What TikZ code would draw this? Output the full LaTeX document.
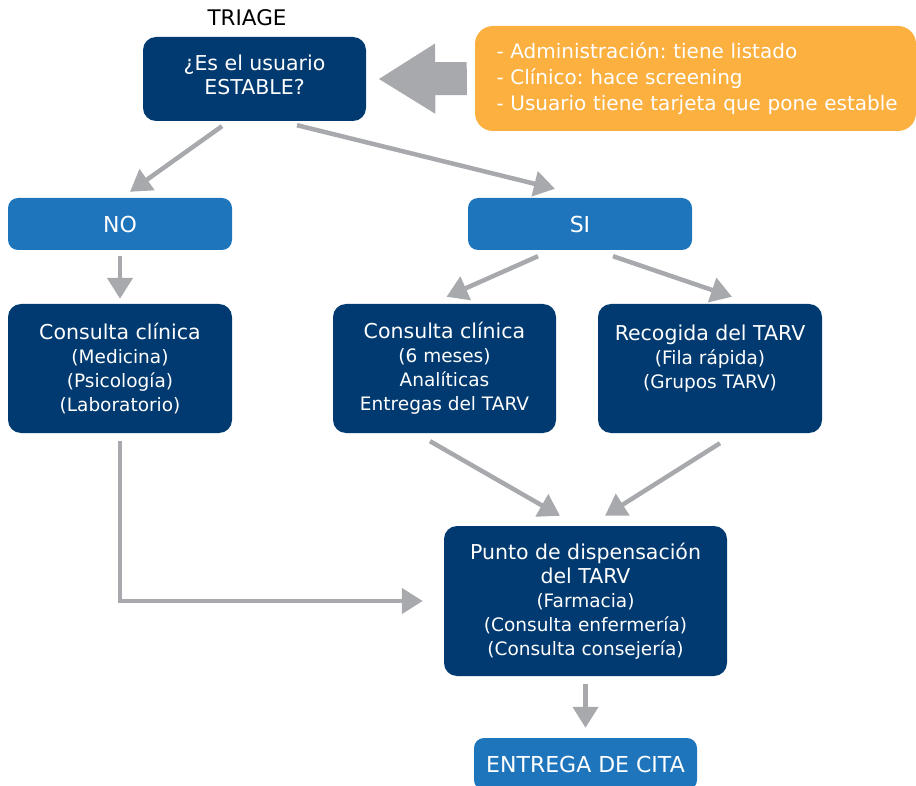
\documentclass[tikz,border=0pt]{standalone}
\usepackage{fontspec}
\setmainfont{DejaVu Sans}
\frenchspacing
\usetikzlibrary{arrows.meta}
\usetikzlibrary{positioning}
\definecolor{navy}{HTML}{003A70}
\definecolor{midblue}{HTML}{1F75BC}
\definecolor{amber}{HTML}{FBB040}
\definecolor{arrowgray}{HTML}{A7A9AC}
\newcommand\sublines{\fontsize{18.5}{23}\selectfont}
\tikzset{
  darkbox/.style={fill=navy, rounded corners=13pt, text=white, align=center,
    font=\fontsize{20.5}{24}\selectfont},
  lightbox/.style={fill=midblue, rounded corners=10pt, text=white,
    minimum width=224pt, minimum height=52pt, font=\fontsize{22}{24}\selectfont},
  flow/.style={draw=arrowgray, line width=4.5pt, -{Triangle[length=21pt,width=25pt]}},
}

\begin{document}
\begin{tikzpicture}[x=1pt,y=-1pt]
  \useasboundingbox (0,0) rectangle (916,786);

  \node [font=\fontsize{21.5}{24}\selectfont] (title) at (247,18) {TRIAGE};
  \node [darkbox, minimum width=223pt, minimum height=84pt] (triage) at (254.5,79)
    {¿Es el usuario\\ESTABLE?\\[-15pt]};
  \node [fill=amber, rounded corners=18pt, text=white, align=left, text width=420pt,
    inner xsep=10.5pt, minimum height=105pt, font=\fontsize{20}{26}\selectfont]
    (info) at (695.5,78.5)
    {\hspace*{11pt}- Administración: tiene listado\\\hspace*{11pt}- Clínico: hace screening\\\hspace*{11pt}- Usuario tiene tarjeta que pone estable};

  \node [lightbox] (no) at (120,224) {NO};
  \node [lightbox] (si) at (580,224) {SI};

  \node [darkbox, minimum width=224pt, minimum height=129pt] (clin) at (120,368.5)
    {Consulta clínica\\{\sublines (Medicina)}\\{\sublines (Psicología)}\\{\sublines (Laboratorio)}};
  \node [darkbox, minimum width=223pt, minimum height=129pt] (clinsix) at (444.5,368.5)
    {Consulta clínica\\{\sublines (6 meses)}\\{\sublines Analíticas}\\{\sublines Entregas del TARV}};
  \node [darkbox, minimum width=224pt, minimum height=129pt] (recog) at (710,368.5)
    {Recogida del TARV\\{\sublines (Fila rápida)}\\{\sublines (Grupos TARV)}\\ \mbox{}};

  \node [darkbox, minimum width=283pt, minimum height=150pt] (punto) at (585.5,601)
    {Punto de dispensación\\del TARV\\{\sublines (Farmacia)}\\{\sublines (Consulta enfermería)}\\{\sublines (Consulta consejería)}};
  \node [lightbox, minimum width=223pt] (cita) at (585.5,764) {ENTREGA DE CITA};

  \draw [arrowgray, line width=33pt, -{Triangle[length=57pt,width=66pt]}]
    ([xshift=-8pt]info.west) -- ([xshift=12pt]triage.east);

  \draw [flow] ([xshift=-32.5pt,yshift=-5pt]triage.south) -- ([xshift=10pt,yshift=6pt]no.north);
  \draw [flow] ([xshift=42.5pt,yshift=-4pt]triage.south) -- ([xshift=-25pt,yshift=9pt]si.north);
  \draw [flow] ([yshift=-6pt]no.south) -- ([yshift=5pt]clin.north);
  \draw [flow] ([xshift=-42pt,yshift=-6pt]si.south) -- ([xshift=2pt,yshift=7pt]clinsix.north);
  \draw [flow] ([xshift=33pt,yshift=-6pt]si.south) -- ([xshift=22pt,yshift=7pt]recog.north);
  \draw [flow] ([xshift=-14.5pt,yshift=-8pt]clinsix.south) -- ([xshift=-25.5pt,yshift=10pt]punto.north);
  \draw [flow] ([xshift=10pt,yshift=-10pt]recog.south) -- ([xshift=19.5pt,yshift=10pt]punto.north);
  \draw [flow] ([yshift=-8pt]clin.south) |- ([xshift=-21pt]punto.west);
  \draw [flow] ([yshift=-8pt]punto.south) -- ([yshift=10pt]cita.north);
\end{tikzpicture}
\end{document}
